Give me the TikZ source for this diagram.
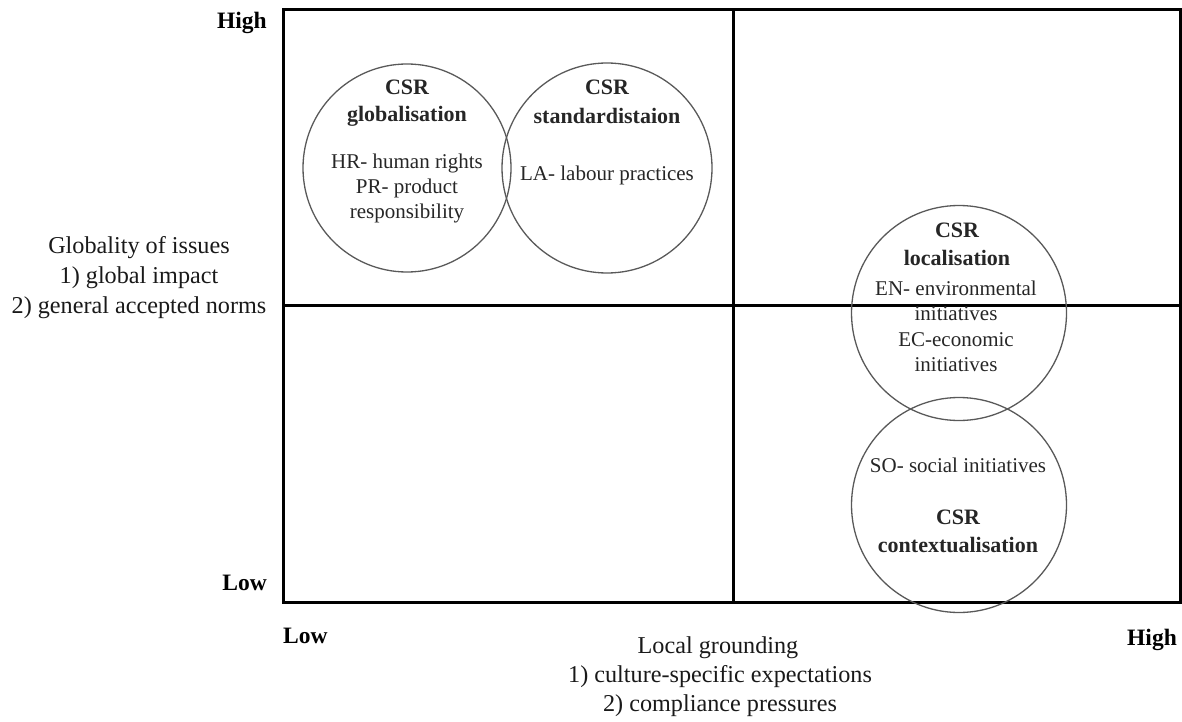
\documentclass[tikz,border=0pt]{standalone}
\usepackage{fontspec}
\setmainfont{Liberation Serif}
\begin{document}
\begin{tikzpicture}[x=1pt,y=-1pt,
  frame/.style={line width=3pt,draw=black},
  venn/.style={circle,draw=black!65,line width=1.3pt,inner sep=0pt},
  txt/.style={text=black!85,font=\fontsize{21}{25}\selectfont,inner sep=0pt,anchor=center},
  head/.style={text=black!85,font=\fontsize{22}{26}\selectfont\bfseries,inner sep=0pt,anchor=center},
  axl/.style={text=black!90,font=\fontsize{24.2}{27}\selectfont,inner sep=0pt,anchor=base},
  axb/.style={text=black,font=\fontsize{23.5}{27}\selectfont\bfseries,inner sep=0pt}]
\useasboundingbox (0,0) rectangle (1182,722);
% frame and quadrants
\coordinate (tl) at (283,10);
\coordinate (br) at (1180,602);
\coordinate (vt) at (733,10);
\coordinate (vb) at (733,602);
\coordinate (hl) at (283,305);
\coordinate (hr) at (1180,305);
\draw[frame] (tl) rectangle (br);
\draw[frame] (vt) -- (vb);
\draw[frame] (hl) -- (hr);
% circles
\node[venn,minimum size=208pt] (glob) at (407,168) {};
\node[venn,minimum size=210pt] (stan) at (607,168) {};
\node[venn,minimum size=215pt] (loc) at (959,313) {};
\node[venn,minimum size=215pt] (ctx) at (959,505) {};
% globalisation
\node[head] (g1) at (407,87) {CSR};
\node[head] (g2) at (407,116) {globalisation};
\node[txt] (g3) at (407,163) {HR- human rights};
\node[txt] (g4) at (407,188) {PR- product};
\node[txt] (g5) at (407,213) {responsibility};
% standardisation
\node[head] (s1) at (607,87) {CSR};
\node[head] (s2) at (607,116) {standardistaion};
\node[txt] (s3) at (607,175) {LA- labour practices};
% localisation
\node[head] (l1) at (957,230) {CSR};
\node[head] (l2) at (957,258) {localisation};
\node[txt] (l3) at (956,288) {EN- environmental};
\node[txt] (l4) at (956,314) {initiatives};
\node[txt] (l5) at (956,340) {EC-economic};
\node[txt] (l6) at (956,365) {initiatives};
% contextualisation
\node[txt] (c1) at (958,465) {SO- social initiatives};
\node[head] (c2) at (958,517) {CSR};
\node[head] (c3) at (958,545) {contextualisation};
% vertical axis
\node[axb,anchor=east] (yh) at (267,23) {High};
\node[axb,anchor=east] (yl) at (267,583) {Low};
\node[axl] (ya) at (139,253) {Globality of issues};
\node[axl] (yb) at (139,283) {1) global impact};
\node[axl] (yc) at (139,313) {2) general accepted norms};
% horizontal axis
\node[axb,anchor=base west] (xl) at (283,643) {Low};
\node[axb,anchor=base east] (xh) at (1177,645) {High};
\node[axl] (xa) at (718,653) {Local grounding};
\node[axl] (xb) at (720,682) {1) culture-specific expectations};
\node[axl] (xc) at (720,711) {2) compliance pressures};
\end{tikzpicture}
\end{document}
